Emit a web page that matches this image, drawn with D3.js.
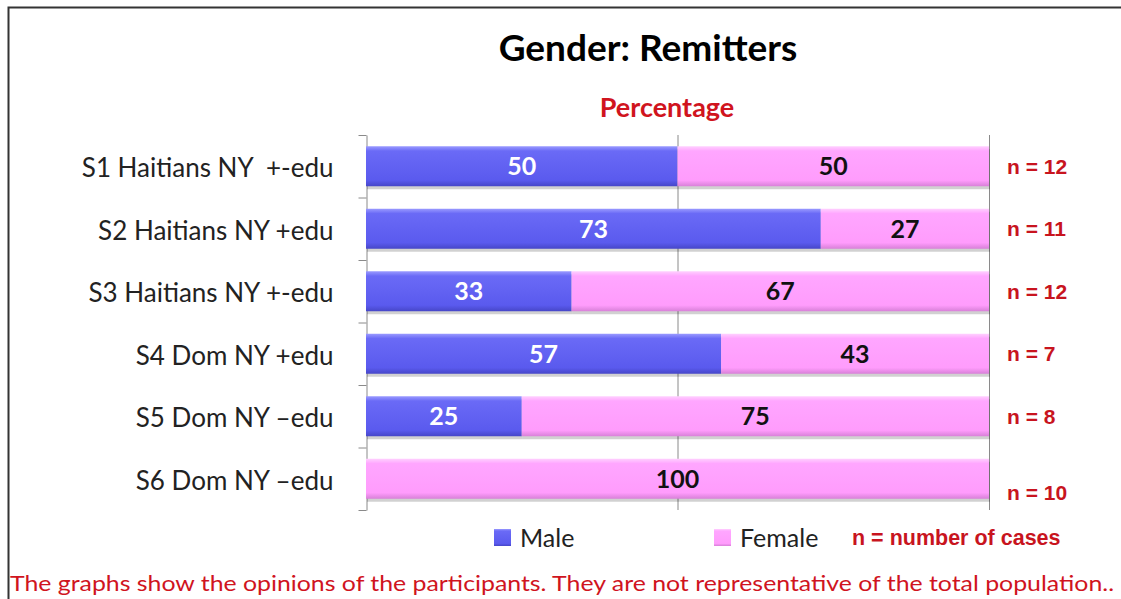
<!DOCTYPE html>
<html>
<head>
<meta charset="utf-8">
<script src="https://cdn.jsdelivr.net/npm/d3@7"></script>
<style>
  body { margin: 0; background: #fff; }
  svg { display: block; }
  text { white-space: pre; }
</style>
</head>
<body>
<svg width="1121" height="599"></svg>
<script>
var svg = d3.select('svg');

// Chart data
var categories = ['S1 Haitians NY  +-edu', 'S2 Haitians NY +edu', 'S3 Haitians NY +-edu',
                  'S4 Dom NY +edu', 'S5 Dom NY \u2013edu', 'S6 Dom NY \u2013edu'];
var male = [50, 73, 33, 57, 25, 0];
var female = [50, 27, 67, 43, 75, 100];
var nCases = [12, 11, 12, 7, 8, 10];
var seriesNames = ['Male', 'Female'];

var calibri = 'Lato, "Open Sans", sans-serif';
var arial = '"Liberation Sans", Arial, sans-serif';

// Outer frame (only top and left visible in the original)
svg.append('path')
    .attr('d', 'M8.5,600 V7.5 H1121')
    .attr('fill', 'none')
    .attr('stroke', '#333')
    .attr('stroke-width', 2);

// Gradients for the bars
var defs = svg.append('defs');
function addGrad(id, stops) {
    var g = defs.append('linearGradient').attr('id', id)
        .attr('x1', 0).attr('y1', 0).attr('x2', 0).attr('y2', 1);
    stops.forEach(function(s) {
        g.append('stop').attr('offset', s[0]).attr('stop-color', s[1]);
    });
}
addGrad('gMale', [[0, '#9a9aff'], [0.12, '#6a6af6'], [0.85, '#5a5aee'], [1, '#4646c8']]);
addGrad('gFemale', [[0, '#ffd0ff'], [0.12, '#ffa6ff'], [0.85, '#ff9cfc'], [1, '#d880d8']]);

var plot = {l: 366, r: 989, t: 135, b: 510};

var x = d3.scaleLinear().domain([0, 100]).range([plot.l, plot.r]);
var y = d3.scaleBand().domain(categories).range([plot.t, plot.b]).paddingInner(0.36).paddingOuter(0.18);

// Gridlines
svg.append('g')
    .selectAll('line')
    .data([50, 100])
    .enter()
    .append('line')
    .attr('x1', function(d) { return x(d) + 0.5; })
    .attr('x2', function(d) { return x(d) + 0.5; })
    .attr('y1', plot.t)
    .attr('y2', plot.b)
    .attr('stroke', '#8a8a8a')
    .attr('stroke-width', 1);

// Category axis
var yAxis = d3.axisLeft(y).tickSize(0).tickPadding(33);
var yG = svg.append('g')
    .attr('transform', 'translate(' + (plot.l + 0.5) + ',0)')
    .call(yAxis);
yG.select('.domain').attr('stroke', '#8a8a8a');
yG.selectAll('text')
    .style('font-family', calibri)
    .style('font-size', '26px')
    .attr('fill', '#222')
    .attr('dy', '0.42em');
// boundary ticks between categories
var step = y.step();
yG.selectAll('.bt')
    .data(d3.range(categories.length + 1))
    .enter()
    .append('line')
    .attr('x1', -8).attr('x2', 0)
    .attr('y1', function(i) { return plot.t + i * step + 0.5; })
    .attr('y2', function(i) { return plot.t + i * step + 0.5; })
    .attr('stroke', '#8a8a8a');

// Stacked bars
var rows = categories.map(function(c, i) {
    return {cat: c, male: male[i], female: female[i], n: nCases[i]};
});

var barG = svg.append('g');
rows.forEach(function(r) {
    var segs = [
        {key: 'Male', x0: 0, x1: r.male, v: r.male},
        {key: 'Female', x0: r.male, x1: 100, v: r.female}
    ].filter(function(s) { return s.v > 0; });
    segs.forEach(function(s) {
        // shadow
        barG.append('rect')
            .attr('x', x(s.x0) + 1)
            .attr('y', y(r.cat) + 3)
            .attr('width', x(s.x1) - x(s.x0))
            .attr('height', y.bandwidth())
            .attr('fill', '#000')
            .attr('opacity', 0.18);
        barG.append('rect')
            .attr('x', x(s.x0))
            .attr('y', y(r.cat))
            .attr('width', x(s.x1) - x(s.x0))
            .attr('height', y.bandwidth())
            .attr('fill', s.key === 'Male' ? 'url(#gMale)' : 'url(#gFemale)');
        barG.append('text')
            .attr('x', (x(s.x0) + x(s.x1)) / 2)
            .attr('y', y(r.cat) + y.bandwidth() / 2)
            .attr('dy', '0.36em')
            .attr('text-anchor', 'middle')
            .style('font-family', calibri)
            .style('font-weight', 'bold')
            .style('font-size', '25px')
            .attr('fill', s.key === 'Male' ? '#fff' : '#111')
            .text(s.v);
    });
});

// n labels
svg.append('g')
    .selectAll('text')
    .data(rows)
    .enter()
    .append('text')
    .attr('x', 1007)
    .attr('y', function(d, i) {
        return y(d.cat) + y.bandwidth() / 2 + (i === rows.length - 1 ? 14 : 0);
    })
    .attr('dy', '0.36em')
    .style('font-family', arial)
    .style('font-weight', 'bold')
    .style('font-size', '21px')
    .attr('fill', '#c8141e')
    .text(function(d) { return 'n = ' + d.n; });

// Title
svg.append('text')
    .attr('x', 648).attr('y', 61)
    .attr('text-anchor', 'middle')
    .style('font-family', calibri)
    .style('font-weight', 'bold')
    .style('font-size', '37px')
    .attr('fill', '#000')
    .text('Gender: Remitters');

svg.append('text')
    .attr('x', 667).attr('y', 117)
    .attr('text-anchor', 'middle')
    .style('font-family', calibri)
    .style('font-weight', 'bold')
    .style('font-size', '27px')
    .attr('fill', '#d0141e')
    .text('Percentage');

// Legend
var legendX = [494, 714];
var legend = svg.append('g');
seriesNames.forEach(function(name, i) {
    legend.append('rect')
        .attr('x', legendX[i]).attr('y', 529)
        .attr('width', 17).attr('height', 17)
        .attr('fill', i === 0 ? 'url(#gMale)' : 'url(#gFemale)');
    legend.append('text')
        .attr('x', legendX[i] + 26).attr('y', 547)
        .style('font-family', calibri)
        .style('font-size', '25px')
        .attr('fill', '#222')
        .text(name);
});
legend.append('text')
    .attr('x', 852).attr('y', 545)
    .style('font-family', arial)
    .style('font-weight', 'bold')
    .style('font-size', '21.5px')
    .attr('fill', '#c8141e')
    .text('n = number of cases');

// Footer note
svg.append('text')
    .attr('x', 10).attr('y', 591)
    .attr('textLength', 1104)
    .attr('lengthAdjust', 'spacingAndGlyphs')
    .style('font-family', calibri)
    .style('font-size', '22px')
    .attr('fill', '#d0141e')
    .text('The graphs show the opinions of the participants. They are not representative of the total population..');
</script>
</body>
</html>
